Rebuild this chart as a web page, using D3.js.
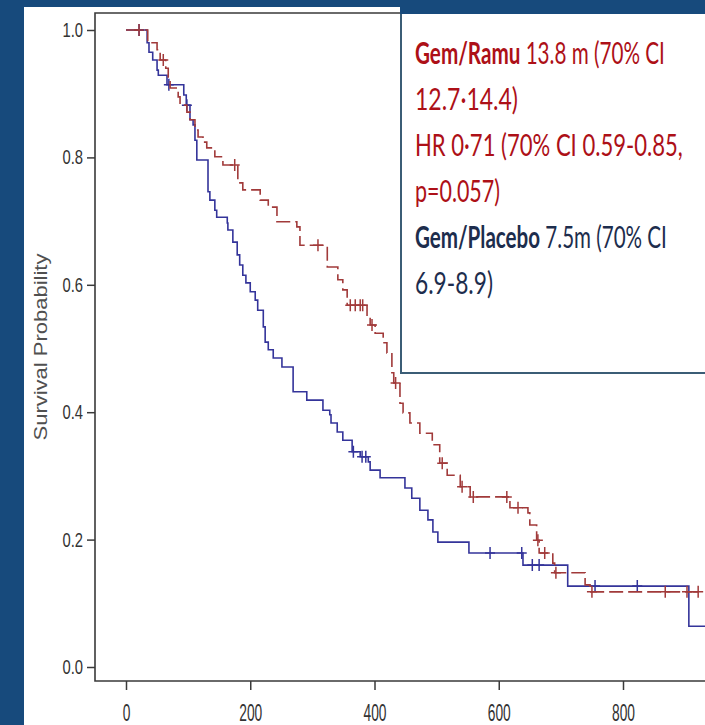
<!DOCTYPE html>
<html>
<head>
<meta charset="utf-8">
<script src="https://cdn.jsdelivr.net/npm/d3@7"></script>
<style>
  html, body { margin: 0; padding: 0; background: #174a7c; }
  svg { display: block; }
</style>
</head>
<body>
<svg id="chart" width="705" height="725"></svg>
<script>
// Kaplan-Meier steps: event times (days) and survival after each event
const placeboTimes = [34,37,43,50,52,66,93,97,103,108,111,114,132,135,143,146,163,164,172,179,183,188,193,200,208,212,221,224,229,237,251,269,291,317,328,330,340,349,364,377,390,393,409,449,460,473,486,494,502,552,639,711,906];
const placeboSurv  = [.980,.965,.953,.937,.929,.914,.898,.882,.859,.851,.827,.796,.746,.733,.717,.706,.697,.686,.667,.647,.631,.615,.603,.589,.576,.560,.534,.510,.498,.485,.471,.432,.419,.403,.396,.383,.369,.356,.338,.330,.322,.309,.297,.281,.265,.246,.231,.212,.196,.179,.160,.127,.064];
const placeboCensored = [21,69,98,366,380,386,586,637,654,665,755,823];
const placeboEnd = 960;

const ramuTimes = [35,50,55,64,68,71,84,87,98,103,111,116,124,130,143,156,180,188,216,229,243,275,280,324,341,349,356,388,393,401,414,420,428,431,441,446,457,473,493,505,517,538,554,618,647,650,661,665,687,690,739,747];
const ramuSurv  = [.980,.969,.953,.940,.922,.909,.895,.882,.871,.859,.843,.832,.824,.815,.801,.788,.760,.749,.733,.722,.699,.691,.662,.628,.608,.592,.568,.549,.537,.524,.509,.493,.462,.446,.414,.399,.383,.367,.349,.320,.301,.283,.267,.250,.242,.223,.199,.179,.163,.148,.129,.118];
const ramuCensored = [21,60,175,309,361,369,377,381,396,434,509,541,559,613,631,663,674,692,750,868,903,921];
const ramuEnd = 921;

const yTicks = [0, 0.2, 0.4, 0.6, 0.8, 1.0];
const xTicks = [0, 200, 400, 600, 800];
const yLabel = "Survival Probability";

const annotationLines = [
  [{t: "Gem/Ramu", b: true, c: "red"}, {t: " 13.8 m (70% CI", c: "red"}],
  [{t: "12.7·14.4)", c: "red"}],
  [{t: "HR 0·71 (70% CI 0.59-0.85,", c: "red"}],
  [{t: "p=0.057)", c: "red"}],
  [{t: "Gem/Placebo", b: true, c: "navy"}, {t: " 7.5m (70% CI", c: "navy"}],
  [{t: "6.9-8.9)", c: "navy"}]
];
const annotationWidths = [250, 103, 268, 85, 252, 78];

const W = 705, H = 725;
const svg = d3.select("#chart");

// page background and white panel
svg.append("rect").attr("width", W).attr("height", H).attr("fill", "#174a7c");
svg.append("rect").attr("x", 24).attr("y", 7).attr("width", W - 24).attr("height", H - 7).attr("fill", "#ffffff");

const frame = {left: 95, top: 13, bottom: 681};
const x = d3.scaleLinear().domain([0, 1000]).range([126, 747.25]);
const y = d3.scaleLinear().domain([0, 1]).range([667, 30]);

// frame
svg.append("path")
  .attr("d", `M${W + 5},${frame.top}H${frame.left}V${frame.bottom}H${W + 5}`)
  .attr("fill", "none").attr("stroke", "#3a3a3a").attr("stroke-width", 1.6);

// axes
const yAxis = svg.append("g").attr("transform", `translate(${frame.left},0)`)
  .call(d3.axisLeft(y).tickValues(yTicks).tickFormat(d3.format(".1f")).tickSize(8));
yAxis.select(".domain").remove();
yAxis.selectAll("line").attr("stroke", "#3a3a3a").attr("stroke-width", 1.5);
const ySx = 0.74;
yAxis.selectAll("text")
  .attr("font-family", "Liberation Sans, Arial, sans-serif")
  .attr("font-size", 20).attr("fill", "#333")
  .attr("x", -12 / ySx)
  .attr("transform", `scale(${ySx},1)`);

const xAxis = svg.append("g").attr("transform", `translate(0,${frame.bottom})`)
  .call(d3.axisBottom(x).tickValues(xTicks).tickFormat(d3.format("d")).tickSize(9));
xAxis.select(".domain").remove();
xAxis.selectAll("line").attr("stroke", "#3a3a3a").attr("stroke-width", 1.5);
const xSx = 0.6;
xAxis.selectAll(".tick text")
  .attr("font-family", "Liberation Sans, Arial, sans-serif")
  .attr("font-size", 23).attr("fill", "#333")
  .attr("y", 40).attr("dy", 0)
  .attr("transform", `scale(${xSx},1)`);

// y-axis title
svg.append("text")
  .attr("transform", "translate(47,347) scale(0.8,1) rotate(-90)")
  .attr("text-anchor", "middle")
  .attr("font-family", "Liberation Sans, Arial, sans-serif")
  .attr("font-size", 22).attr("fill", "#505050")
  .text(yLabel);

// survival curves
function stepPoints(times, surv, end) {
  const pts = [[0, 1]];
  times.forEach((t, i) => pts.push([t, surv[i]]));
  pts.push([end, surv[surv.length - 1]]);
  return pts;
}
function survAt(times, surv, t) {
  let s = 1;
  for (let i = 0; i < times.length; i++) { if (times[i] <= t) s = surv[i]; }
  return s;
}
const line = d3.line().x(d => x(d[0])).y(d => y(d[1])).curve(d3.curveStepAfter);

const arms = [
  {times: placeboTimes, surv: placeboSurv, cens: placeboCensored, end: placeboEnd, color: "#34349a", dash: null},
  {times: ramuTimes, surv: ramuSurv, cens: ramuCensored, end: ramuEnd, color: "#a13a3a", dash: "14,5"}
];

const plot = svg.append("g");
arms.forEach(a => {
  plot.append("path")
    .attr("d", line(stepPoints(a.times, a.surv, a.end)))
    .attr("fill", "none").attr("stroke", a.color).attr("stroke-width", 1.6)
    .attr("stroke-dasharray", a.dash);
  plot.selectAll(null).data(a.cens).enter().append("path")
    .attr("d", t => {
      const cx = x(t), cy = y(survAt(a.times, a.surv, t));
      return `M${cx - 5},${cy}H${cx + 5}M${cx},${cy - 6}V${cy + 6}`;
    })
    .attr("stroke", a.color).attr("stroke-width", 1.5).attr("fill", "none");
});

// annotation box
svg.append("rect").attr("x", 401).attr("y", 10).attr("width", 330).attr("height", 363)
  .attr("fill", "#ffffff").attr("stroke", "#3b5d76").attr("stroke-width", 2);
svg.append("rect").attr("x", 400).attr("y", 0).attr("width", W - 400).attr("height", 14).attr("fill", "#174a7c");

const colors = {red: "#ad1017", navy: "#1d2d4d"};
annotationLines.forEach((parts, i) => {
  const t = svg.append("text")
    .attr("x", 0).attr("y", 0)
    .attr("font-family", "Lato, 'Open Sans', sans-serif")
    .attr("font-size", 31);
  parts.forEach(p => {
    t.append("tspan").text(p.t)
      .attr("font-weight", p.b ? 700 : 400)
      .attr("fill", colors[p.c]);
  });
  const w = t.node().getComputedTextLength();
  const sx = annotationWidths[i] / w;
  t.attr("transform", `translate(415,${64 + i * 46}) scale(${sx},1)`);
});
</script>
</body>
</html>
